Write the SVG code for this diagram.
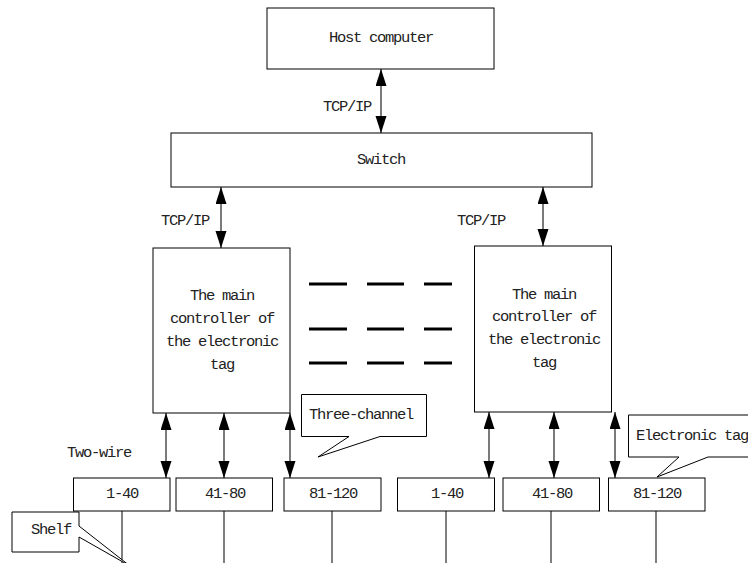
<svg xmlns="http://www.w3.org/2000/svg" width="748" height="563" viewBox="0 0 748 563">
<style>
.box{fill:#fff;stroke:#000;stroke-width:1}
.t{font-family:"Liberation Mono","DejaVu Sans Mono",monospace;font-size:15.5px;letter-spacing:-1.3px;fill:#222;text-anchor:middle;dominant-baseline:central}
.tl{font-family:"Liberation Mono","DejaVu Sans Mono",monospace;font-size:15.5px;letter-spacing:-1.3px;fill:#222;dominant-baseline:central}
.arr{stroke:#222;stroke-width:1.2;marker-start:url(#ah);marker-end:url(#ah)}
.ln{stroke:#000;stroke-width:1}
.dash{stroke:#000;stroke-width:3}
</style>
<defs>
<marker id="ah" markerUnits="userSpaceOnUse" markerWidth="18" markerHeight="12" refX="17" refY="5.5" orient="auto-start-reverse">
<path d="M0,0 L17,5.5 L0,11 Z" fill="#000"/>
</marker>
</defs>
<rect width="748" height="563" fill="#fff"/>
<g id="connectors">
<line class="arr" x1="381" y1="69" x2="381" y2="133"/>
<line class="arr" x1="221" y1="187" x2="221" y2="248"/>
<line class="arr" x1="543" y1="187" x2="543" y2="246"/>
<line class="arr" x1="166" y1="413" x2="166" y2="478"/>
<line class="arr" x1="224" y1="413" x2="224" y2="478"/>
<line class="arr" x1="290" y1="413" x2="290" y2="478"/>
<line class="arr" x1="489" y1="412" x2="489" y2="478"/>
<line class="arr" x1="554" y1="412" x2="554" y2="478"/>
<line class="arr" x1="615" y1="412" x2="615" y2="478"/>
<line class="ln" x1="122" y1="511" x2="122" y2="563" stroke="#666"/>
<line class="ln" x1="224" y1="511" x2="224" y2="563"/>
<line class="ln" x1="332" y1="511" x2="332" y2="563"/>
<line class="ln" x1="446" y1="511" x2="446" y2="563"/>
<line class="ln" x1="551" y1="511" x2="551" y2="563"/>
<line class="ln" x1="656" y1="511" x2="656" y2="563"/>
<text class="tl" x="323" y="107">TCP/IP</text>
<text class="tl" x="161" y="221">TCP/IP</text>
<text class="tl" x="457" y="221">TCP/IP</text>
<text class="tl" x="67" y="453">Two-wire</text>
</g>
<g id="host">
<rect class="box" x="267" y="8" width="227" height="61"/>
<text class="t" x="381" y="38">Host computer</text>
</g>
<g id="switch">
<rect class="box" x="171" y="133" width="421" height="54"/>
<text class="t" x="381" y="160">Switch</text>
</g>
<g id="controller-left">
<rect class="box" x="153" y="248" width="137" height="165"/>
<text class="t" x="222" y="296">The main</text>
<text class="t" x="222" y="319">controller of</text>
<text class="t" x="222" y="342">the electronic</text>
<text class="t" x="222" y="365">tag</text>
</g>
<g id="controller-right">
<rect class="box" x="474.5" y="246" width="137" height="166"/>
<text class="t" x="544" y="295">The main</text>
<text class="t" x="544" y="317">controller of</text>
<text class="t" x="544" y="340">the electronic</text>
<text class="t" x="544" y="363">tag</text>
</g>
<g id="ellipsis">
<line class="dash" x1="309" y1="284" x2="347" y2="284"/>
<line class="dash" x1="367" y1="284" x2="404" y2="284"/>
<line class="dash" x1="424" y1="284" x2="452" y2="284"/>
<line class="dash" x1="309" y1="329" x2="347" y2="329"/>
<line class="dash" x1="367" y1="329" x2="404" y2="329"/>
<line class="dash" x1="424" y1="329" x2="452" y2="329"/>
<line class="dash" x1="309" y1="363" x2="347" y2="363"/>
<line class="dash" x1="367" y1="363" x2="404" y2="363"/>
<line class="dash" x1="424" y1="363" x2="452" y2="363"/>
</g>
<g id="tag-l1"><rect class="box" x="73.5" y="478" width="96.5" height="33"/><text class="t" x="122" y="494">1-40</text></g>
<g id="tag-l2"><rect class="box" x="176" y="478" width="96.5" height="33"/><text class="t" x="225" y="494">41-80</text></g>
<g id="tag-l3"><rect class="box" x="284" y="478" width="97" height="33"/><text class="t" x="333" y="494">81-120</text></g>
<g id="tag-r1"><rect class="box" x="397.5" y="478" width="97" height="33"/><text class="t" x="447" y="494">1-40</text></g>
<g id="tag-r2"><rect class="box" x="503" y="478" width="96.5" height="33"/><text class="t" x="552" y="494">41-80</text></g>
<g id="tag-r3"><rect class="box" x="608.5" y="478" width="96.5" height="33"/><text class="t" x="657" y="494">81-120</text></g>
<g id="callout-shelf">
<path class="box" d="M12,512 H79 V526 L130,566 L79,537 V552 H12 Z"/>
<text class="tl" x="31" y="530">Shelf</text>
</g>
<g id="callout-three">
<path class="box" d="M301.5,394.5 H426.5 V436.5 H380 L318,457 L349,436.5 H301.5 Z"/>
<text class="tl" x="309" y="415">Three-channel</text>
</g>
<g id="callout-tag">
<path class="box" d="M628.5,415 H760 V457 H708 L657,477 L679,457 H628.5 Z"/>
<text class="tl" x="636" y="436">Electronic tag</text>
</g>
</svg>
